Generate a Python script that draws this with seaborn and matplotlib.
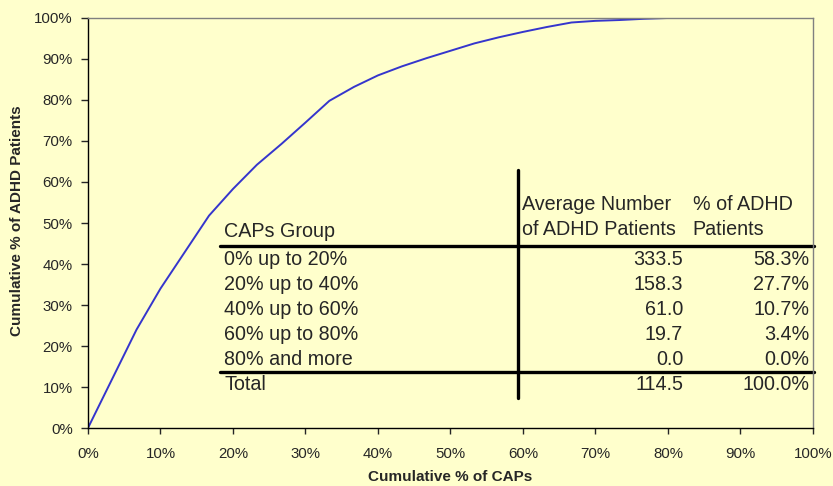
import matplotlib
matplotlib.use("Agg")
import matplotlib.pyplot as plt
import pandas as pd
import seaborn as sns

# cumulative share of CAPs (x) against cumulative share of ADHD patients (y), in %
cum_caps = [0, 6.7, 10, 16.7, 20, 23.3, 26.7, 30, 33.3, 36.7, 40, 43.3, 46.7, 50,
            53.3, 56.7, 60, 63.3, 66.7, 70, 73.3, 76.7, 80, 83.3, 86.7, 90, 93.3, 96.7, 100]
cum_adhd = [0, 24, 34, 51.8, 58.3, 64.2, 69.3, 74.5, 79.8, 83.2, 86.0, 88.2, 90.2, 92.0,
            93.8, 95.3, 96.6, 97.8, 98.9, 99.3, 99.5, 99.8, 100, 100, 100, 100, 100, 100, 100]

# table values
groups = ["0% up to 20%", "20% up to 40%", "40% up to 60%", "60% up to 80%", "80% and more"]
avg_patients = [333.5, 158.3, 61.0, 19.7, 0.0]
pct_patients = [58.3, 27.7, 10.7, 3.4, 0.0]
total_avg = 114.5
total_pct = 100.0

bg = "#FFFFCC"
sns.set_style("ticks")
plt.rcParams["font.family"] = ["Liberation Sans", "DejaVu Sans"]

df = pd.DataFrame({"caps": cum_caps, "adhd": cum_adhd})

fig = plt.figure(figsize=(8.33, 4.86), dpi=100, facecolor=bg)
ax = fig.add_axes([0.1056, 0.1193, 0.8703, 0.8437])
ax.set_facecolor(bg)

sns.lineplot(data=df, x="caps", y="adhd", ax=ax, color="#3535CC", lw=1.4)

ax.set_xlim(0, 100)
ax.set_ylim(0, 100)
ax.set_xticks(range(0, 101, 10))
ax.set_yticks(range(0, 101, 10))
ax.set_xticklabels([f"{v}%" for v in range(0, 101, 10)], fontsize=10.8)
ax.set_yticklabels([f"{v}%" for v in range(0, 101, 10)], fontsize=10.8)
ax.tick_params(axis="x", direction="out", length=4, width=1, pad=9.5)
ax.tick_params(axis="y", direction="out", length=5, width=1, pad=6)

for s in ["left", "bottom"]:
    ax.spines[s].set_color("black")
    ax.spines[s].set_linewidth(1)
for s in ["top", "right"]:
    ax.spines[s].set_visible(True)
    ax.spines[s].set_color("#808080")
    ax.spines[s].set_linewidth(1)

ax.set_xlabel("Cumulative % of CAPs", fontsize=11, fontweight="bold")
ax.set_ylabel("Cumulative % of ADHD Patients", fontsize=11, fontweight="bold")
ax.xaxis.label.set_va("center")
ax.yaxis.label.set_va("center")
ax.xaxis.set_label_coords(0.5, -0.1195)
ax.yaxis.set_label_coords(-0.0973, 0.505)

# embedded table
fs = 14.2
ax.plot([18.2, 100.2], [44.4, 44.4], color="black", lw=2.4, clip_on=False)
ax.plot([18.2, 100.2], [13.6, 13.6], color="black", lw=2.4, clip_on=False)
ax.plot([59.35, 59.35], [7.3, 62.9], color="black", lw=2.4)

ax.text(18.8, 48.3, "CAPs Group", fontsize=fs, va="center_baseline", ha="left")
ax.text(59.9, 54.9, "Average Number", fontsize=fs, va="center_baseline", ha="left")
ax.text(59.9, 48.8, "of ADHD Patients", fontsize=fs, va="center_baseline", ha="left")
ax.text(83.4, 54.9, "% of ADHD", fontsize=fs, va="center_baseline", ha="left")
ax.text(83.4, 48.8, "Patients", fontsize=fs, va="center_baseline", ha="left")

row_y = [41.5, 35.4, 29.3, 23.2, 17.1]
for y, g, a, p in zip(row_y, groups, avg_patients, pct_patients):
    ax.text(18.8, y, g, fontsize=fs, va="center_baseline", ha="left")
    ax.text(82.1, y, f"{a:.1f}", fontsize=fs, va="center_baseline", ha="right")
    ax.text(99.5, y, f"{p:.1f}%", fontsize=fs, va="center_baseline", ha="right")

ax.text(18.8, 11.0, "Total", fontsize=fs, va="center_baseline", ha="left")
ax.text(82.1, 11.0, f"{total_avg:.1f}", fontsize=fs, va="center_baseline", ha="right")
ax.text(99.5, 11.0, f"{total_pct:.1f}%", fontsize=fs, va="center_baseline", ha="right")

fig.savefig("out.png", dpi=100, facecolor=bg)
